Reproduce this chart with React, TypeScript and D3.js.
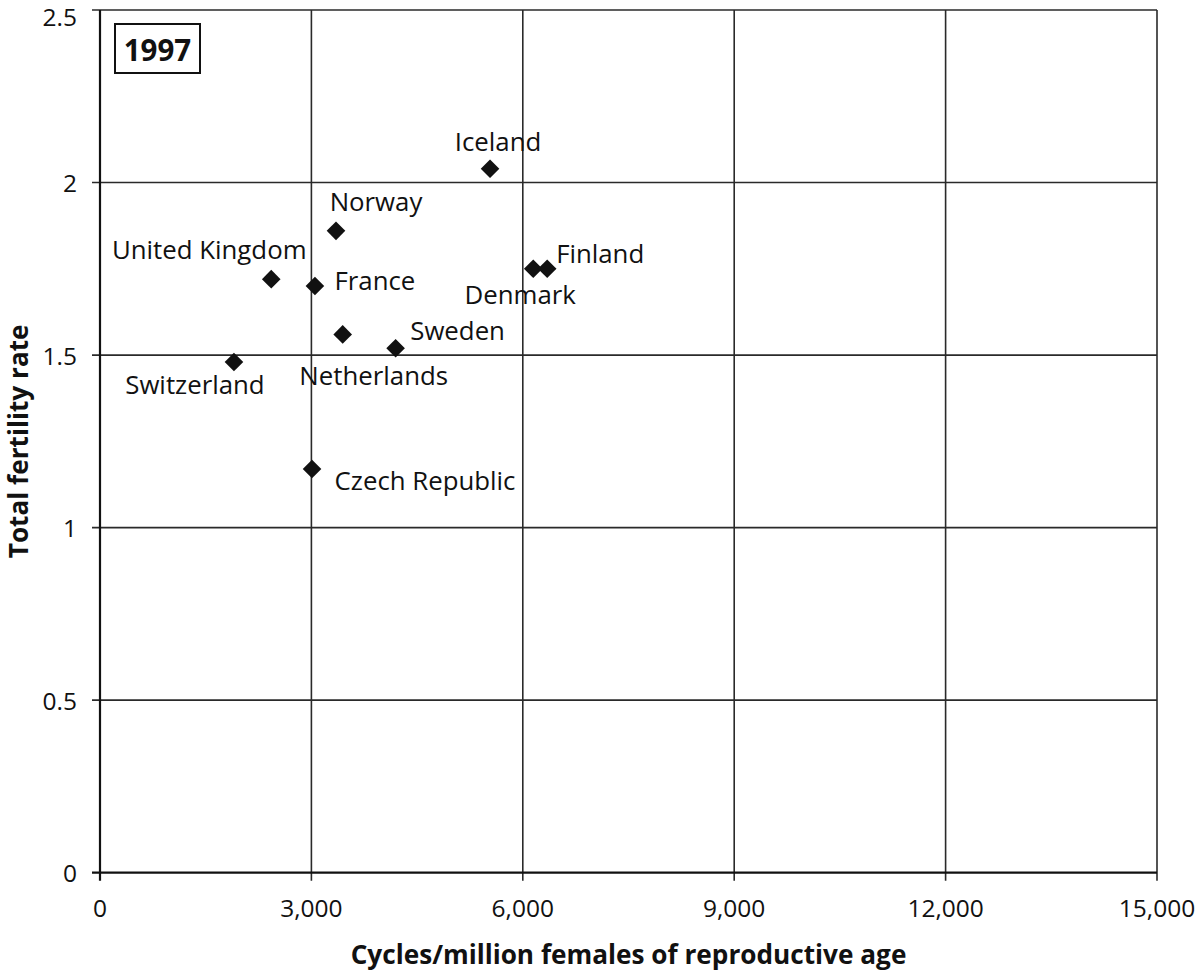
import React from "react";
import * as d3 from "d3";

const countries = ["Iceland", "Norway", "United Kingdom", "France", "Netherlands", "Sweden", "Switzerland", "Czech Republic", "Denmark", "Finland"];
const cycles = [5535, 3349, 2430, 3050, 3444, 4195, 1901, 3009, 6148, 6346];
const tfr = [2.04, 1.86, 1.72, 1.70, 1.56, 1.52, 1.48, 1.17, 1.75, 1.75];
const xTicks = [0, 3000, 6000, 9000, 12000, 15000];
const yTicks = [0, 0.5, 1, 1.5, 2, 2.5];
const yearLabel = "1997";
const xTitle = "Cycles/million females of reproductive age";
const yTitle = "Total fertility rate";

// label offsets (pixels) relative to the marker
const labelOffset: Record<string, [number, number]> = {
  "Iceland": [8, -28],
  "Norway": [40, -30],
  "United Kingdom": [-62, -30],
  "France": [60, -6],
  "Netherlands": [31, 41],
  "Sweden": [62, -18],
  "Switzerland": [-39, 22],
  "Czech Republic": [113, 11],
  "Denmark": [-13, 25],
  "Finland": [53, -16],
};

const W = 1200;
const H = 972;
const left = 100, right = 1157, top = 10, bottom = 872.7;
const font = "'Open Sans', sans-serif";

export default function App() {
  const x = d3.scaleLinear().domain([0, 15000]).range([left, right]);
  const y = d3.scaleLinear().domain([0, 2.5]).range([bottom, top]);
  const fmt = d3.format(",");
  const diamond = d3.symbol().type(d3.symbolDiamond2).size(2 * 10.5 * 10.5);
  return (
    <svg width={W} height={H} style={{ position: "absolute", left: 0, top: 0, background: "#fff" }}>
      <rect x={0} y={0} width={W} height={H} fill="#fff" />
      {/* gridlines */}
      {yTicks.filter((t) => t > 0).map((t) => (
        <line key={"gy" + t} x1={x(0) - 8} x2={right} y1={y(t)} y2={y(t)} stroke="#2a2a2a" strokeWidth={1.6} />
      ))}
      {xTicks.filter((t) => t > 0).map((t) => (
        <line key={"gx" + t} x1={x(t)} x2={x(t)} y1={top} y2={bottom + 8} stroke="#2a2a2a" strokeWidth={1.6} />
      ))}
      {/* axes */}
      <line x1={left} x2={left} y1={top} y2={bottom + 8} stroke="#111" strokeWidth={2.2} />
      <line x1={left - 8} x2={right} y1={bottom} y2={bottom} stroke="#111" strokeWidth={2.2} />
      {/* tick labels */}
      {yTicks.map((t) => (
        <text key={"ty" + t} x={77} y={Math.max(y(t), 16)} textAnchor="end" dominantBaseline="central" fontFamily={font} fontSize={24.5} fill="#111">
          {String(t)}
        </text>
      ))}
      {xTicks.map((t) => (
        <text key={"tx" + t} x={x(t)} y={907} textAnchor="middle" dominantBaseline="central" fontFamily={font} fontSize={24.5} fill="#111">
          {fmt(t)}
        </text>
      ))}
      {/* axis titles */}
      <text x={(left + right) / 2} y={954} textAnchor="middle" dominantBaseline="central" fontFamily={font} fontWeight="bold" fontSize={26.2} fill="#111">
        {xTitle}
      </text>
      <text transform={`translate(17.5,${(top + bottom) / 2}) rotate(-90)`} textAnchor="middle" dominantBaseline="central" fontFamily={font} fontWeight="bold" fontSize={26.2} fill="#111">
        {yTitle}
      </text>
      {/* year box */}
      <rect x={115} y={24} width={85} height={49} fill="#fff" stroke="#111" strokeWidth={2} />
      <text x={157.5} y={49} textAnchor="middle" dominantBaseline="central" fontFamily={font} fontWeight="bold" fontSize={29.5} fill="#111">
        {yearLabel}
      </text>
      {/* points */}
      {countries.map((c, i) => (
        <path key={"p" + c} d={diamond() || ""} transform={`translate(${x(cycles[i])},${y(tfr[i])})`} fill="#111" />
      ))}
      {countries.map((c, i) => {
        const [dx, dy] = labelOffset[c];
        return (
          <text key={"l" + c} x={x(cycles[i]) + dx} y={y(tfr[i]) + dy} textAnchor="middle" dominantBaseline="central" fontFamily={font} fontSize={25.8} fill="#111">
            {c}
          </text>
        );
      })}
    </svg>
  );
}
